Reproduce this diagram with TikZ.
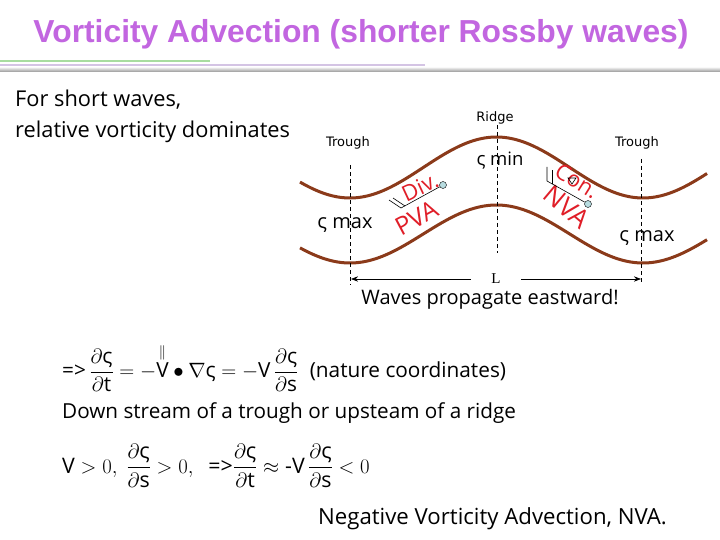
\documentclass[tikz,border=0pt]{standalone}
\usepackage{amsmath,amssymb}
\usepackage{fontspec}
\setmainfont{Open Sans}
\newfontfamily\titlefont{Liberation Sans}
\newfontfamily\labelfont{DejaVu Sans}
\newfontfamily\lenfont{Liberation Serif}
\usepackage{tikz}
\usetikzlibrary{arrows.meta}
\definecolor{titlepurple}{HTML}{C266E0}
\definecolor{wavebrown}{HTML}{8B3A1A}
\definecolor{notered}{HTML}{E01E28}
\definecolor{barbblue}{HTML}{B8DCE0}
\definecolor{rulegreen}{HTML}{A8DCA0}
\definecolor{rulelilac}{HTML}{D4C4E4}
\newcommand{\zt}{\text{ς}}

\begin{document}
\begin{tikzpicture}[x=1pt,y=-1pt,
  hand/.style={font=\fontsize{20}{24}\selectfont,inner sep=0pt},
  tag/.style={font=\labelfont\fontsize{13}{15}\selectfont,inner sep=0pt},
  warn/.style={text=notered,font=\fontsize{22}{24}\selectfont,inner sep=0pt},
  wave/.style={wavebrown,line width=3pt},
  guide/.style={dash pattern=on 4pt off 3pt,line width=.9pt},
  arr/.style={{Stealth[length=2.5mm]}-{Stealth[length=2.5mm]},line width=.7pt},
  barb/.style={line width=.6pt},
  station/.style={circle,draw,fill=barbblue,inner sep=0pt,minimum size=7pt}]
  \fill[white] (0,0) rectangle (720,540);
  \useasboundingbox (0,0) rectangle (720,540);
  \node[font=\titlefont\bfseries\fontsize{31.8}{33}\selectfont,text=titlepurple] (title) at (361,34)
    {Vorticity Advection (shorter Rossby waves)};
  \fill[rulegreen] (0,60.5) rectangle (210,62.5);
  \fill[rulelilac] (0,64.5) rectangle (425,66);
  \shade[top color=gray!20,bottom color=gray!75] (0,68) rectangle (720,71.5);
  \node[hand,anchor=west,font=\fontsize{21.8}{24}\selectfont] (intro1) at (15,100) {For short waves,};
  \node[hand,anchor=west,font=\fontsize{21.8}{24}\selectfont] (intro2) at (15,132) {relative vorticity dominates};
  \draw[wave] plot[domain=300:707,samples=90,smooth] (\x,{167.5+30.5*cos(1.22867*(\x-350))});
  \draw[wave] plot[domain=300:707,samples=90,smooth] (\x,{234+29*cos(1.22867*(\x-350))});
  \coordinate (wTop) at (350,165);
  \coordinate (wBot) at (350,285);
  \coordinate (rTop) at (497,125);
  \coordinate (rBot) at (497,253);
  \coordinate (eTop) at (641,159);
  \coordinate (eBot) at (641,282);
  \draw[guide] (wTop) -- (wBot);
  \draw[guide] (rTop) -- (rBot);
  \draw[guide] (eTop) -- (eBot);
  \coordinate (lenW) at (351,279);
  \coordinate (lenE) at (641,279);
  \draw[arr] (lenW) -- node[fill=white,inner xsep=20pt,inner ysep=1pt,
    font=\lenfont\fontsize{15}{16}\selectfont] (len) {L} (lenE);
  \node[hand] (waves) at (490,299) {Waves propagate eastward!};
  \node[tag] (ridge) at (495,118) {Ridge};
  \node[tag] (troughW) at (348,143) {Trough};
  \node[tag] (troughE) at (637,143) {Trough};
  \node[hand,font=\fontsize{18.5}{22}\selectfont] (zmin) at (500,161) {ς min};
  \node[hand] (zmaxW) at (345,225) {ς max};
  \node[hand] (zmaxE) at (647,238) {ς max};
  \node[warn,rotate=25] (div) at (420,187) {Div.};
  \node[warn,rotate=28,font=\fontsize{25}{26}\selectfont] (pva) at (417,218) {PVA};
  \node[warn,rotate=-32] (con) at (577,181) {Con.};
  \node[warn,rotate=-40,font=\fontsize{26}{28}\selectfont] (nva) at (567,207) {NVA};
  \node[station] (stW) at (443,185) {};
  \coordinate (tailW) at (401,208);
  \coordinate (fW1) at (389,200);
  \coordinate (fW2a) at (405,206);
  \coordinate (fW2b) at (393,198);
  \draw[barb] (stW) -- (tailW) -- (fW1);
  \draw[barb] (fW2a) -- (fW2b);
  \node[station] (stE) at (588,204) {};
  \coordinate (tailE) at (547,181);
  \coordinate (fE1) at (547,167);
  \coordinate (fE2a) at (552,184);
  \coordinate (fE2b) at (552,170);
  \draw[barb] (stE) -- (tailE) -- (fE1);
  \draw[barb] (fE2a) -- (fE2b);
  \draw[barb] (568,178) -- (576,178) -- (572,184) -- cycle;
  \node[hand,anchor=west,font=\fontsize{20.8}{24}\selectfont] (eqAdv) at (62,368)
    {$\text{=>}\,\dfrac{\partial\zt}{\partial\text{t}} = -\overset{\scriptstyle\|}{\text{V}}\bullet\nabla\zt
      = -\text{V}\,\dfrac{\partial\zt}{\partial\text{s}}\;\;\text{(nature coordinates)}$};
  \node[hand,anchor=west,font=\fontsize{20.7}{24}\selectfont] (where) at (62,413)
    {Down stream of a trough or upsteam of a ridge};
  \node[hand,anchor=west,font=\fontsize{21.4}{24}\selectfont] (eqSign) at (62,466)
    {$\text{V} > 0,\ \dfrac{\partial\zt}{\partial\text{s}} > 0,\;\; \text{=>}\dfrac{\partial\zt}{\partial\text{t}}
      \approx \text{-V}\,\dfrac{\partial\zt}{\partial\text{s}} < 0$};
  \node[hand,anchor=west,font=\fontsize{22.2}{24}\selectfont] (nvaNote) at (318,519)
    {Negative Vorticity Advection, NVA.};
\end{tikzpicture}
\end{document}
